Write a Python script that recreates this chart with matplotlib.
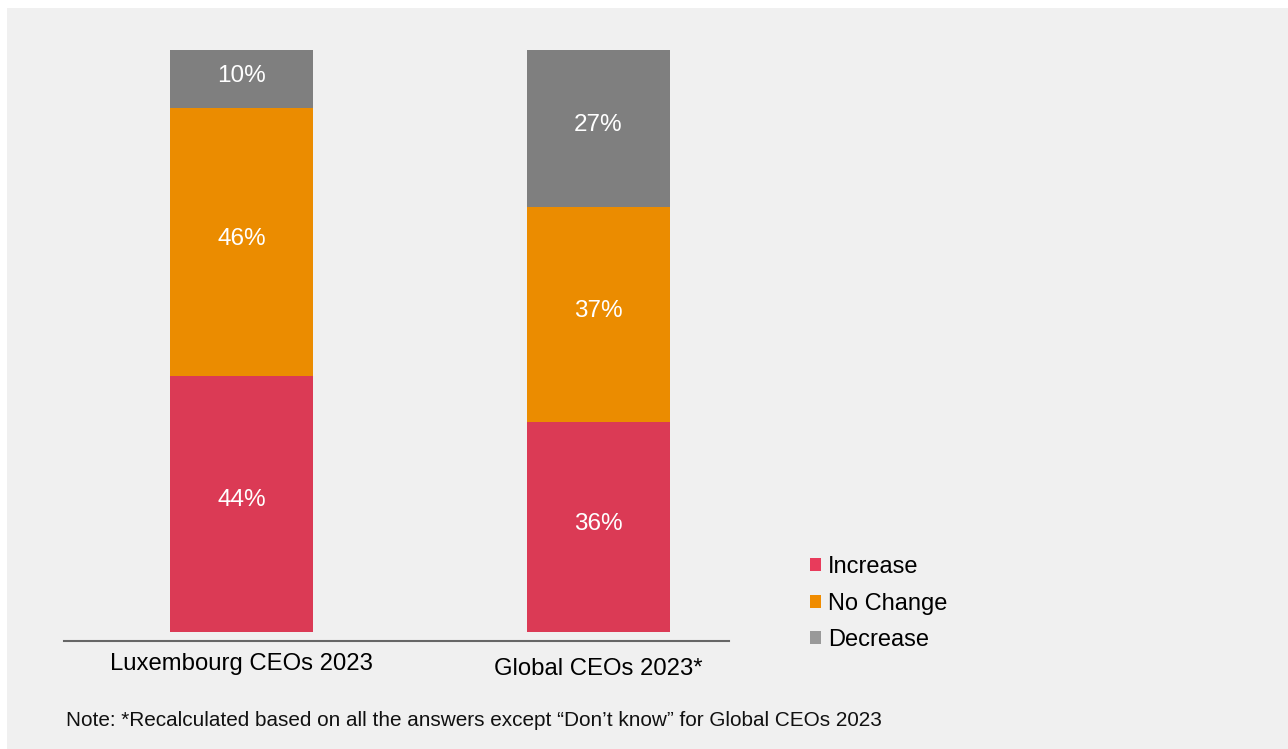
import matplotlib
matplotlib.use("Agg")
import matplotlib.pyplot as plt
from matplotlib.patches import Patch, Rectangle

plt.rcParams['font.family'] = ['Liberation Sans', 'DejaVu Sans']

categories = ["Luxembourg CEOs 2023", "Global CEOs 2023*"]
series = ["Increase", "No Change", "Decrease"]
increase = [44, 36]
no_change = [46, 37]
decrease = [10, 27]
note = "Note: *Recalculated based on all the answers except \u201cDon\u2019t know\u201d for Global CEOs 2023"

bar_colors = ["#db3a55", "#eb8c00", "#7f7f7f"]
legend_colors = ["#e83b5b", "#f08c00", "#999999"]

W, H = 1288, 749
fig = plt.figure(figsize=(W / 100, H / 100), dpi=100, facecolor="white")
# light grey panel behind everything
fig.patches.append(Rectangle((7 / W, 0), 1 - 7 / W, 1 - 8 / H, transform=fig.transFigure,
                             facecolor="#f0f0f0", edgecolor="none", zorder=-10))

ax = fig.add_axes([64 / W, 1 - 641 / H, (729 - 64) / W, (641 - 50) / H])
ax.set_facecolor("none")

x = [0, 1]
width = 0.401
bottom = [0, 0]
for vals, col in zip([increase, no_change, decrease], bar_colors):
    ax.bar(x, vals, width, bottom=bottom, color=col, edgecolor="none")
    for xi, v, b in zip(x, vals, bottom):
        ax.annotate(f"{v}%", (xi, b + v / 2), xytext=(0, 2.5), textcoords="offset points",
                    ha="center", va="center", color="white", fontsize=17.5)
    bottom = [b + v for b, v in zip(bottom, vals)]

ax.set_xlim(-0.498, 1.367)
ax.set_ylim(-1.55, 100)
for s in ["top", "right", "left"]:
    ax.spines[s].set_visible(False)
ax.spines["bottom"].set_color("#666666")
ax.spines["bottom"].set_linewidth(1.5)
ax.set_yticks([])
ax.set_xticks([])

# category labels (second one sits a little lower)
ax.text(0, -3.6, categories[0], ha="center", va="top", fontsize=17.2,
        transform=ax.transData, clip_on=False)
ax.text(1, -4.45, categories[1], ha="center", va="top", fontsize=17.2,
        transform=ax.transData, clip_on=False)

fig.text(66 / W, 1 - 721 / H, note, ha="left", va="center", fontsize=14.95, color="#111111")

handles = [Patch(facecolor=c, edgecolor="none") for c in legend_colors]
fig.legend(handles, series, loc="upper left", bbox_to_anchor=(810 / W, 1 - 556 / H),
           frameon=False, fontsize=17, handlelength=0.47, handleheight=0.47,
           handletextpad=0.3, labelspacing=0.615, borderaxespad=0, borderpad=0)

fig.savefig("out.png", dpi=100, facecolor=fig.get_facecolor())
